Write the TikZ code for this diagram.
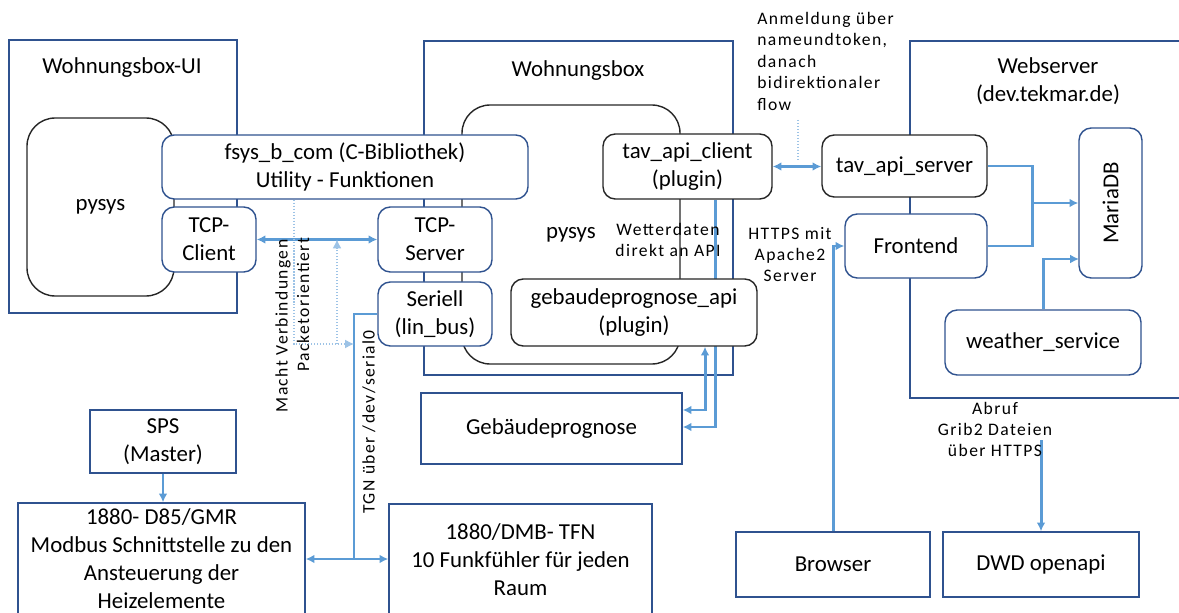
\documentclass[tikz,border=0pt]{standalone}
\usepackage{fontspec}
\setmainfont{Carlito}
\newfontfamily\notefont[LetterSpace=8]{Carlito}
\usepackage{tikz}
\usetikzlibrary{arrows.meta,calc,positioning}
\definecolor{boxblue}{HTML}{2F528F}
\definecolor{flowblue}{HTML}{5B9BD5}
\definecolor{dotblue}{HTML}{9DC3E6}

\begin{document}
\begin{tikzpicture}[x=0.2mm, y=-0.2mm,
        >={Latex[length=5pt,width=5pt]},
        every node/.style={font=\fontsize{13}{16}\selectfont},
        frame/.style={draw=boxblue, line width=0.8pt, inner sep=0pt},
        plain/.style={draw=boxblue, line width=0.8pt, fill=white, align=center, inner sep=0pt},
        blueround/.style={plain, rounded corners=7pt},
        blackround/.style={plain, draw=black!85, rounded corners=7pt},
        shell/.style={draw=black!85, line width=0.8pt, rounded corners=16pt, inner sep=0pt},
        flow/.style={draw=flowblue, line width=1.7pt},
        hint/.style={draw=dotblue, line width=0.7pt, densely dotted},
        note/.style={font=\notefont\fontsize{10}{12.2}\selectfont, inner sep=0pt}]
        \useasboundingbox (0,0) rectangle (1179,613);
        % Define points
        \coordinate (serjoin) at (354,559);
        \coordinate (mv) at (294,344);
        \coordinate (mvb) at (337,344);
        \coordinate (wd) at (715,427);
        \coordinate (gp) at (705,410);
        \coordinate (dbjoin) at (1032,203);
        \coordinate (wsin) at (1079,259);
        \coordinate (dwdfrom) at (1041,440);
        \coordinate (an1) at (798,120);
        \coordinate (an2) at (798,160);
        % Outer frames
        \node[frame, minimum width=45.6mm, minimum height=54.6mm] (uibox) at (123,176.5) {};
        \node[frame, minimum width=61.8mm, minimum height=66.8mm] (wbox) at (578.5,208) {};
        \node[frame, minimum width=56mm, minimum height=71.4mm] (webbox) at (1050,219.5) {};
        \node (uititle) at (122,68) {Wohnungsbox-UI};
        \node (wtitle) at (578,71) {Wohnungsbox};
        \node[align=center] (webtitle) at (1048,81) {Webserver\\(dev.tekmar.de)};
        % pysys shells
        \node[shell, minimum width=29.4mm, minimum height=35.6mm] (uipysys) at (100.5,207) {pysys};
        \node[shell, minimum width=43.6mm, minimum height=51.8mm] (wpysys) at (571,234.5) {pysys};
        % Wohnungsbox-UI parts
        \node[blueround, minimum width=73.2mm, minimum height=12.8mm] (fsys) at (345,167)
            {fsys\_b\_com (C-Bibliothek)\\Utility - Funktionen};
        \node[blueround, minimum width=18.8mm, minimum height=13mm] (tcpclient) at (209,239.5) {TCP-\\Client};
        \node[blueround, minimum width=22.8mm, minimum height=13mm] (tcpserver) at (435,239.5) {TCP-\\Server};
        \node[blueround, minimum width=22.8mm, minimum height=12.8mm] (seriell) at (435,314) {Seriell\\(lin\_bus)};
        % Wohnungsbox parts
        \node[blackround, minimum width=33.8mm, minimum height=13mm] (apiclient) at (687.5,166.5)
            {tav\_api\_client\\(plugin)};
        \node[plain, minimum width=52.2mm, minimum height=14.2mm] (gebprog) at (551.5,428.5) {Gebäudeprognose};
        % Wetterdaten line runs behind the plugin box
        \draw[flow,->] (apiclient.south -| wd) -- (wd) -- (wd -| gebprog.east);
        \node[blackround, minimum width=49.2mm, minimum height=13.4mm] (gebapi) at (634,312.5)
            {gebaudeprognose\_api\\(plugin)};
        % Field devices
        \node[plain, minimum width=29.2mm, minimum height=12.6mm] (sps) at (163,441.5) {SPS\\(Master)};
        \node[plain, minimum width=57.4mm, minimum height=22.2mm] (gmr) at (161.5,558.5)
            {1880- D85/GMR\\Modbus Schnittstelle zu den\\Ansteuerung der\\Heizelemente};
        \node[plain, minimum width=52.6mm, minimum height=22.4mm] (tfn) at (520.5,560)
            {1880/DMB- TFN\\10 Funkfühler für jeden\\Raum};
        % Webserver parts
        \node[blackround, minimum width=33mm, minimum height=12.4mm] (apiserver) at (904.5,166) {tav\_api\_server};
        \node[blueround, minimum width=28.4mm, minimum height=12.8mm] (frontend) at (916,246) {Frontend};
        \node[blueround, minimum width=12.6mm, minimum height=30mm] (mariadb) at (1110.5,203) {};
        \node[rotate=90] (mariadbtext) at (mariadb) {MariaDB};
        \node[blueround, minimum width=39.2mm, minimum height=13mm] (weather) at (1043,342.5) {weather\_service};
        \node[plain, minimum width=38.8mm, minimum height=13mm] (browser) at (833,564.5) {Browser};
        \node[plain, minimum width=39.2mm, minimum height=13mm] (dwd) at (1041,564.5) {DWD openapi};
        % Connectors
        \draw[flow,<->] (tcpclient.east) -- (tcpserver.west);
        \draw[flow] (seriell.west) -| (serjoin);
        \draw[flow,<->] (gmr.east |- serjoin) -- (tfn.west |- serjoin);
        \draw[flow,->] (sps.south) -- (sps.south |- gmr.north);
        \draw[flow,<->] (gebapi.south -| gp) -- (gp) -- (gp -| gebprog.east);
        \draw[flow,<->] (apiclient.east) -- (apiclient.east -| apiserver.west);
        \draw[flow,->] (apiserver.east) -| (dbjoin) -- (mariadb.west |- dbjoin);
        \draw[flow] (frontend.east) -| (dbjoin);
        \draw[flow,->] (weather.north) |- (wsin);
        \draw[flow,->] (browser.north) |- (frontend.west);
        \draw[flow,->] (dwdfrom) -- (dwd.north);
        \draw[hint,->] (fsys.south -| mv) -- (mv) -- (mv -| serjoin);
        \draw[hint,->] (mvb) -- (mvb |- tcpclient.east);
        \draw[hint] (an1) -- (an2);
        % Notes
        \node[note, align=left, anchor=north west] (anmeldung) at (757,12)
            {Anmeldung über\\nameundtoken,\\danach\\bidirektionaler\\flow};
        \node[note, align=center] (https) at (790,254.5) {HTTPS mit\\Apache2\\Server};
        \node[note, align=center] (abruf) at (995,429.5) {Abruf\\Grib2 Dateien\\über HTTPS};
        \node[note, align=center] (wetter) at (668,240) {Wetterdaten\\direkt an API};
        \node[note, rotate=90] (macht) at (283,326) {Macht Verbindungen};
        \node[note, rotate=90] (packet) at (303,305) {Packetorientiert};
        \node[note, rotate=90] (tgn) at (369,422) {TGN über /dev/serial0};
\end{tikzpicture}
\end{document}
